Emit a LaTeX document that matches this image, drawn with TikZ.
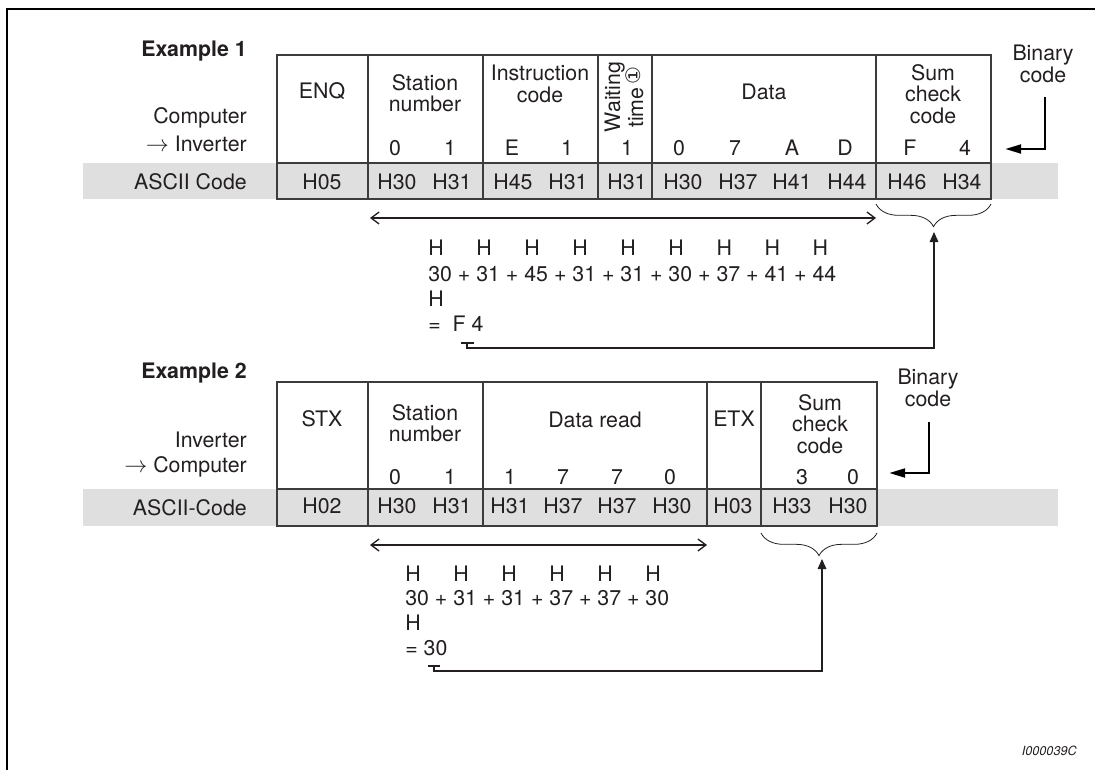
\documentclass[tikz,border=0pt]{standalone}
\usepackage{fontspec}
\setmainfont{TeX Gyre Heros}
\newfontfamily\dejavu{DejaVu Sans}
\usetikzlibrary{arrows.meta,decorations.pathreplacing,calc}
\definecolor{band}{RGB}{223,223,223}
\definecolor{ink}{RGB}{35,31,32}
\definecolor{rulec}{RGB}{60,60,60}
\newcommand\hx[1]{\rlap{H}\phantom{#1}}
\newcommand\px{\phantom{+}}
\begin{document}
\begin{tikzpicture}[x=0.75pt,y=-0.75pt,
  txt/.style={font=\fontsize{16}{16.2}\selectfont, inner sep=0pt, align=center, text=ink},
  lbl/.style={txt, anchor=east, align=right},
  boldlbl/.style={lbl, font=\fontsize{16}{16.2}\selectfont\bfseries},
  cell/.style={draw=rulec, line width=0.8pt},
  frame/.style={draw=black, line width=2pt},
  span/.style={draw=ink, line width=1pt, {Straight Barb[length=6pt,width=9pt]}-{Straight Barb[length=6pt,width=9pt]}},
  brc/.style={draw=ink, line width=0.6pt, decorate, decoration={brace, amplitude=17pt}},
  back/.style={draw=ink, line width=0.8pt, -{Triangle[length=7.5pt,width=6.5pt]}},
  tick/.style={draw=ink, line width=0.8pt},
  bin/.style={draw=black, line width=2pt, -{Triangle[length=12pt,width=6.5pt]}},
  code/.style={font=\fontsize{9.5}{10}\selectfont\itshape, inner sep=0pt, text=ink}]
\useasboundingbox (0,0) rectangle (1095,770);
% frame
\draw[frame] (7,770) -- (7,9) -- (1095,9);

% ================= Example 1 =================
\fill[band] (83,163) rectangle (1058,199);
\draw[cell] (277,55) rectangle (991,199);
\draw[cell] (277,163) -- (991,163);
\foreach \x in {368,483,598,652,876} \draw[cell] (\x,55) -- (\x,199);

\node[boldlbl] (ex1) at (247,51) {Example 1};
\node[lbl] (dir1a) at (247,118) {Computer};
\node[lbl] (dir1b) at (247,144) {$\rightarrow$ Inverter};
\node[lbl] (asc1) at (247,182) {ASCII Code};

\node[txt] (enq) at (322,91) {ENQ};
\node[txt] (st1) at (425,93) {Station\\number};
\node[txt] (ins) at (540,84) {Instruction\\code};
\node[txt, rotate=90] (wait) at (624,97) {Waiting\\time\,\raisebox{0.2ex}{\dejavu\fontsize{15}{15}\selectfont ①}};
\node[txt] (data1) at (764,92) {Data};
\node[txt] (sum1) at (933,94) {Sum\\check\\code};

\foreach \x/\t [count=\i] in {395/0,450/1,512/E,567/1,627/1,679/0,735/7,792/A,845/D,910/F,965/4}
  \node[txt] (d1-\i) at (\x,148) {\t};
\node[txt] (a1-0) at (322,182) {H05};
\foreach \x/\t [count=\i] in {397/H30,452/H31,513/H45,568/H31,627/H31,683/H30,738/H37,792/H41,847/H44,907/H46,962/H34}
  \node[txt] (a1-\i) at (\x,182) {\t};

\node[txt] (bin1) at (1043,64) {Binary\\code};
\coordinate (bin1a) at (1045,97);
\coordinate (bin1b) at (1005,149);
\draw[bin] (bin1a) |- (bin1b);

\coordinate (sp1a) at (370,218);
\coordinate (sp1b) at (876,218);
\draw[span] (sp1a) -- (sp1b);
\draw[brc] (991,204) -- (876,204);

% formula 1
\node[txt, anchor=west] (hr1) at (428,248) {\hx{30} \px{} \hx{31} \px{} \hx{45} \px{} \hx{31} \px{} \hx{31} \px{} \hx{30} \px{} \hx{37} \px{} \hx{41} \px{} \hx{44}};
\node[txt, anchor=west] (sr1) at (428,274) {30 + 31 + 45 + 31 + 31 + 30 + 37 + 41 + 44};
\node[txt, anchor=west] (hh1) at (428,299) {H};
\node[txt, anchor=west] (res1) at (428,324) {=\hspace{9pt}F 4};
\coordinate (t1) at (467,343);
\coordinate (up1) at (934,232);
\draw[tick] ($(t1)+(-6,0)$) -- ($(t1)+(7,0)$);
\draw[back] (t1) -- ++(0,5) -| (up1);

% ================= Example 2 =================
\fill[band] (83,489) rectangle (1058,526);
\draw[cell] (277,382) rectangle (877,526);
\draw[cell] (277,489) -- (877,489);
\foreach \x in {368,483,707,761} \draw[cell] (\x,382) -- (\x,526);

\node[boldlbl] (ex2) at (247,373) {Example 2};
\node[lbl] (dir2a) at (247,440) {Inverter};
\node[lbl] (dir2b) at (247,467) {$\rightarrow$ Computer};
\node[lbl] (asc2) at (247,508) {ASCII-Code};

\node[txt] (stx) at (322,419) {STX};
\node[txt] (st2) at (425,423) {Station\\number};
\node[txt] (dread) at (595,420) {Data read};
\node[txt] (etx) at (734,419) {ETX};
\node[txt] (sum2) at (820,424) {Sum\\check\\code};

\foreach \x/\t [count=\i] in {395/0,450/1,510/1,563/7,617/7,670/0,802/3,853/0}
  \node[txt] (d2-\i) at (\x,477) {\t};
\node[txt] (a2-0) at (322,506) {H02};
\foreach \x/\t [count=\i] in {397/H30,452/H31,510/H31,563/H37,617/H37,672/H30,733/H03,792/H33,848/H30}
  \node[txt] (a2-\i) at (\x,506) {\t};

\node[txt] (bin2) at (928,388) {Binary\\code};
\coordinate (bin2a) at (929,422);
\coordinate (bin2b) at (889,473);
\draw[bin] (bin2a) |- (bin2b);

\coordinate (sp2a) at (370,545);
\coordinate (sp2b) at (707,545);
\draw[span] (sp2a) -- (sp2b);
\draw[brc] (877,533) -- (761,533);

% formula 2
\node[txt, anchor=west] (hr2) at (405,574) {\hx{30} \px{} \hx{31} \px{} \hx{31} \px{} \hx{37} \px{} \hx{37} \px{} \hx{30}};
\node[txt, anchor=west] (sr2) at (405,598) {30 + 31 + 31 + 37 + 37 + 30};
\node[txt, anchor=west] (hh2) at (405,623) {H};
\node[txt, anchor=west] (res2) at (405,648) {= 30};
\coordinate (t2) at (434,666);
\coordinate (up2) at (822,559);
\draw[tick] ($(t2)+(-6,0)$) -- ($(t2)+(6,0)$);
\draw[back] (t2) -- ++(0,5) -| (up2);

\node[code, anchor=east] (fig) at (1077,751) {I000039C};
\end{tikzpicture}
\end{document}
